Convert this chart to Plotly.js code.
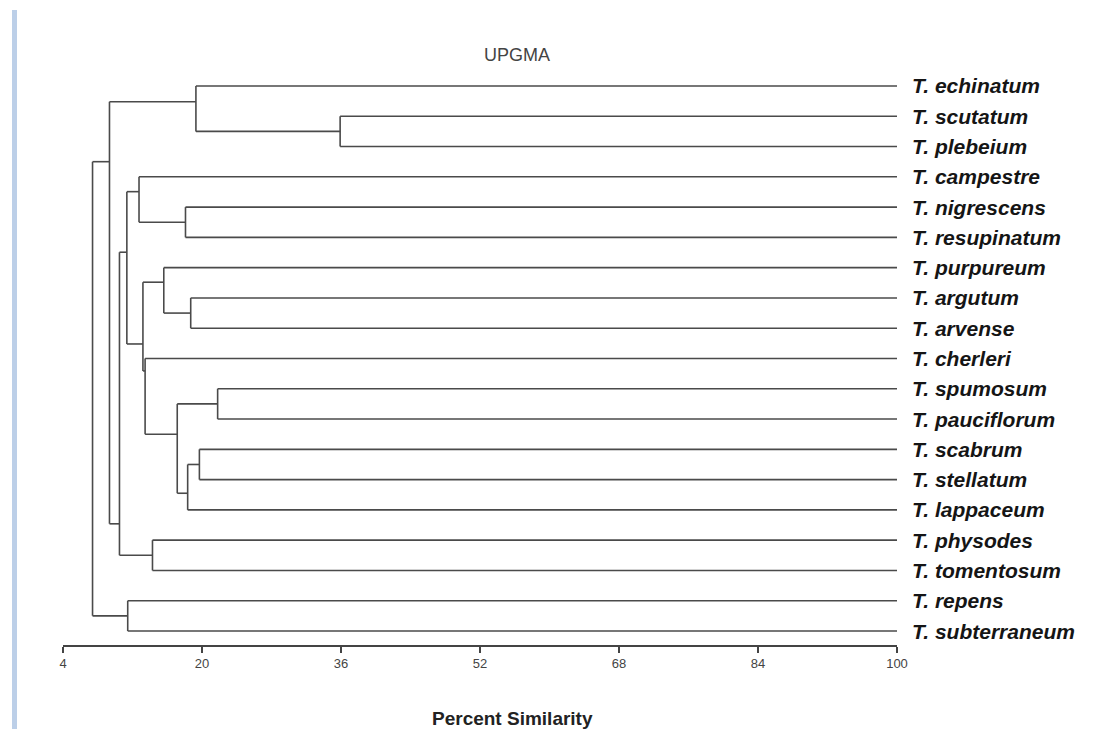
<!DOCTYPE html>
<html>
<head>
<meta charset="utf-8">
<script src="https://cdn.plot.ly/plotly-3.0.1.min.js"></script>
<style>
  html, body { margin: 0; padding: 0; background: #ffffff; }
  #chart { position: absolute; left: 0; top: 0; width: 1094px; height: 729px; }
  #bar { position: absolute; left: 12px; top: 10px; width: 5px; height: 719px; background: #bccfe8; }
</style>
</head>
<body>
<div id="chart"></div>
<div id="bar"></div>
<script>
// Leaf taxa, in drawing order (top to bottom)
const taxa = [
  "T. echinatum", "T. scutatum", "T. plebeium", "T. campestre", "T. nigrescens",
  "T. resupinatum", "T. purpureum", "T. argutum", "T. arvense", "T. cherleri",
  "T. spumosum", "T. pauciflorum", "T. scabrum", "T. stellatum", "T. lappaceum",
  "T. physodes", "T. tomentosum", "T. repens", "T. subterraneum"
];

// Merges: children >= 0 are leaf indices, children < 0 refer to merge -(c+1)
const mergeChildA = [1, 0, 4, 3, 7, 6, 10, 12, -8, -7, 9, -6, -4, 15, -13, -2, 17, -16];
const mergeChildB = [2, -1, 5, -3, 8, -5, 11, 13, 14, -9, -10, -11, -12, 16, -14, -15, 18, -17];
// Percent similarity at which each merge happens
const mergeSimilarity = [35.9, 19.3, 18.1, 12.75, 18.7, 15.6, 21.8, 19.7, 18.35, 17.15, 13.45, 13.2, 11.35, 14.3, 10.5, 9.35, 11.45, 7.4];
// Position of each merge on the taxon axis (in taxon-index units)
const mergeTaxonPos = [1.5, 0.52, 4.5, 3.49, 7.5, 6.48, 10.5, 12.5, 13.45, 11.5, 9.41, 8.52, 5.49, 15.5, 14.46, 2.5, 17.5, 10];

const axisTicks = [4, 20, 36, 52, 68, 84, 100];
const leafSimilarity = 100;

function childPos(c) { return c >= 0 ? c : mergeTaxonPos[-c - 1]; }
function childSim(c) { return c >= 0 ? leafSimilarity : mergeSimilarity[-c - 1]; }

const xs = [], ys = [];
for (let k = 0; k < mergeChildA.length; k++) {
  const h = mergeSimilarity[k];
  const a = mergeChildA[k], b = mergeChildB[k];
  xs.push(h, h, null); ys.push(childPos(a), childPos(b), null);
  [a, b].forEach(c => {
    xs.push(h, childSim(c), null); ys.push(childPos(c), childPos(c), null);
  });
}

const trace = {
  type: 'scatter', mode: 'lines', x: xs, y: ys,
  line: { color: '#4a4a4a', width: 1.6 },
  hoverinfo: 'skip', showlegend: false
};

const annotations = taxa.map((t, i) => ({
  x: leafSimilarity, y: i, xref: 'x', yref: 'y',
  text: '<b><i>' + t + '</i></b>', showarrow: false,
  xanchor: 'left', yanchor: 'middle', xshift: 13,
  font: { family: 'Liberation Sans, Arial, sans-serif', size: 21, color: '#151515' }
}));
annotations.push({
  xref: 'paper', yref: 'paper', x: (512 - 63) / 834, y: -(718 - 645) / 575,
  xanchor: 'center', yanchor: 'middle', showarrow: false,
  text: '<b>Percent Similarity</b>',
  font: { family: 'Liberation Sans, Arial, sans-serif', size: 19, color: '#222222' }
});

const layout = {
  width: 1094, height: 729,
  margin: { l: 63, r: 197, t: 70, b: 84, pad: 0 },
  paper_bgcolor: '#ffffff', plot_bgcolor: '#ffffff',
  font: { family: 'Liberation Sans, Arial, sans-serif', color: '#333333' },
  title: {
    text: 'UPGMA', xref: 'container', yref: 'container',
    x: 517 / 1094, y: 1 - 55 / 729, xanchor: 'center', yanchor: 'middle',
    font: { family: 'Liberation Sans, Arial, sans-serif', size: 18, color: '#444444' }
  },
  xaxis: {
    range: [4, 100], showgrid: false, zeroline: false,
    showline: true, linecolor: '#444444', linewidth: 1.5,
    ticks: 'outside', ticklen: 6, tickcolor: '#444444', tickwidth: 1.2,
    tickvals: axisTicks, ticktext: axisTicks.map(String),
    tickfont: { family: 'Liberation Sans, Arial, sans-serif', size: 13, color: '#444444' },
    automargin: false, fixedrange: true
  },
  yaxis: { range: [18.462, -0.528], visible: false, fixedrange: true },
  annotations: annotations,
  showlegend: false
};

Plotly.newPlot('chart', [trace], layout, { staticPlot: true, displayModeBar: false });
</script>
</body>
</html>
